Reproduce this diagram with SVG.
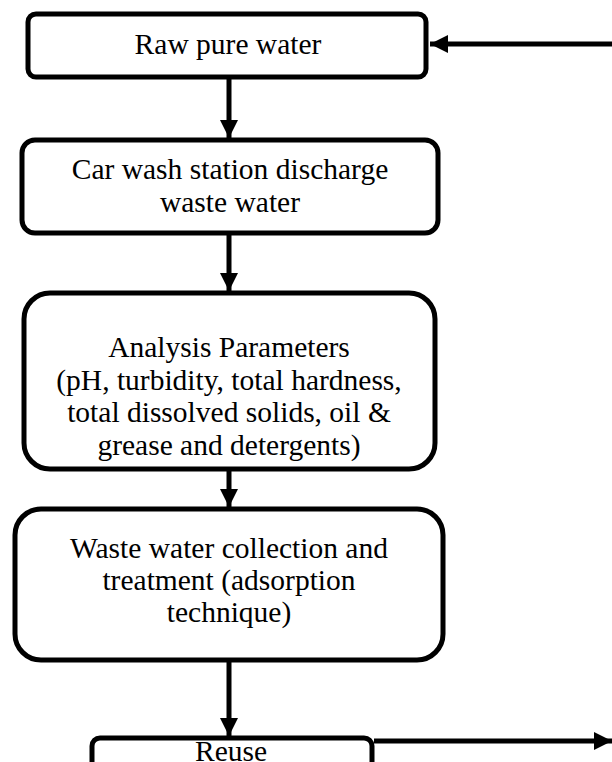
<svg xmlns="http://www.w3.org/2000/svg" width="612" height="762" viewBox="0 0 612 762">
<style>
.box{fill:#fff;stroke:#000;stroke-width:5}
.t{font-family:"Liberation Serif","Times New Roman",serif;font-size:29.5px;fill:#000;text-anchor:middle}
.c{stroke:#000;stroke-width:5;fill:none}
</style>
<defs>
<marker id="ah" viewBox="0 0 10 10" refX="10" refY="5" markerWidth="3.6" markerHeight="3.6" orient="auto" markerUnits="strokeWidth">
<path d="M0,0 L10,5 L0,10 z" fill="#000"/>
</marker>
</defs>
<rect width="612" height="762" fill="#fff"/>
<g id="connectors">
<line class="c" x1="612" y1="44" x2="430" y2="44" marker-end="url(#ah)"/>
<line class="c" x1="229" y1="79" x2="229" y2="138" marker-end="url(#ah)"/>
<line class="c" x1="229" y1="235" x2="229" y2="291" marker-end="url(#ah)"/>
<line class="c" x1="229" y1="471" x2="229" y2="507" marker-end="url(#ah)"/>
<line class="c" x1="229" y1="662" x2="229" y2="736" marker-end="url(#ah)"/>
<line class="c" x1="374" y1="741" x2="612" y2="741" marker-end="url(#ah)"/>
</g>
<g id="raw">
<rect class="box" x="28" y="14" width="398" height="63" rx="8"/>
<text class="t" x="228" y="54">Raw pure water</text>
</g>
<g id="carwash">
<rect class="box" x="22" y="140" width="416" height="93" rx="13"/>
<text class="t" x="230" y="179">Car wash station discharge</text>
<text class="t" x="230" y="212">waste water</text>
</g>
<g id="analysis">
<rect class="box" x="24" y="293" width="411" height="176" rx="26"/>
<text class="t" x="229" y="357">Analysis Parameters</text>
<text class="t" x="229" y="390">(pH, turbidity, total hardness,</text>
<text class="t" x="229" y="422">total dissolved solids, oil &amp;</text>
<text class="t" x="229" y="455">grease and detergents)</text>
</g>
<g id="treatment">
<rect class="box" x="15" y="509" width="428" height="151" rx="26"/>
<text class="t" x="229" y="558">Waste water collection and</text>
<text class="t" x="229" y="590">treatment (adsorption</text>
<text class="t" x="229" y="622">technique)</text>
</g>
<g id="reuse">
<rect class="box" x="92" y="738" width="280" height="60" rx="8"/>
<text class="t" x="231" y="761">Reuse</text>
</g>
</svg>
